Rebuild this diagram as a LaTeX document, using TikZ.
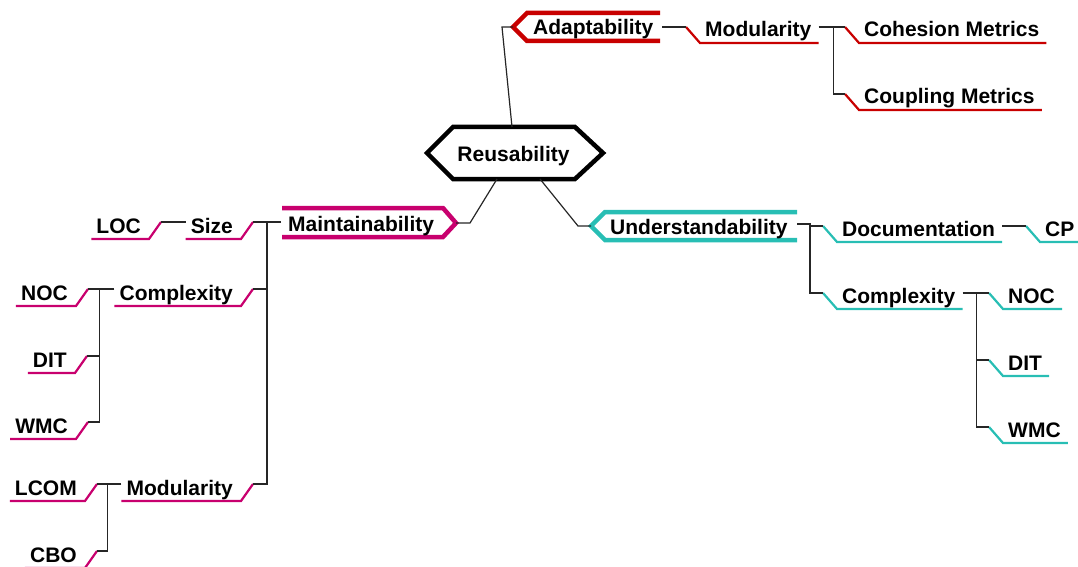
\documentclass[tikz,border=0pt]{standalone}
\usepackage{fontspec}
\setmainfont{Liberation Sans}
\usetikzlibrary{calc}
\definecolor{cRed}{RGB}{200,0,0}
\definecolor{cMag}{RGB}{200,0,110}
\definecolor{cTeal}{RGB}{40,190,180}
\tikzset{
 lbl/.style={inner sep=0pt, font=\fontsize{21}{25}\selectfont\bfseries},
 leafline/.style={line width=2.2pt, line join=miter},
 mainline/.style={line width=4.5pt, line join=miter},
 conn/.style={line width=1.2pt, black!85},
}
% right-side leaf: name, text-left x, baseline y, colour, text
\newcommand\RLeaf[5]{%
 \node[lbl,anchor=base west] (#1) at (#2,#3) {#5};
 \coordinate (#1-in) at ($(#1.base west)+(-19,-10)$);
 \coordinate (#1-out) at ($(#1.base east)+(7,-10)$);
 \draw[leafline,#4] (#1-in) -- ($(#1.base west)+(-5,6)$) -- ($(#1.base east)+(7,6)$);
}
% left-side leaf: name, text-right x, baseline y, colour, text
\newcommand\LLeaf[5]{%
 \node[lbl,anchor=base east] (#1) at (#2,#3) {#5};
 \coordinate (#1-in) at ($(#1.base east)+(20,-11)$);
 \coordinate (#1-out) at ($(#1.base west)+(-5,-11)$);
 \draw[leafline,#4] (#1-in) -- ($(#1.base east)+(8,6)$) -- ($(#1.base west)+(-5,6)$);
}
\begin{document}
\begin{tikzpicture}[x=1pt,y=-1pt]
\useasboundingbox (0,0) rectangle (1078,567);

% central node
\draw[line width=4.5pt, line join=miter] (427,153) -- (453,127) -- (575,127) -- (603,153) -- (575,179) -- (453,179) -- cycle;
\node[lbl,anchor=base] (reus) at (513.5,161) {Reusability};
\coordinate (reus-top) at (512,127);
\coordinate (reus-bl) at (497,179);
\coordinate (reus-br) at (540,179);

% Adaptability
\draw[mainline,cRed] (660,13) -- (527,13) -- (513,27) -- (527,41) -- (660,41);
\node[lbl,anchor=base west] (adapt) at (533,35) {Adaptability};
\coordinate (adapt-tip) at (513,27);
\coordinate (adapt-j) at (502,27);
\coordinate (adapt-out) at (662,27);

% Maintainability
\draw[mainline,cMag] (282,208) -- (443,208) -- (456,223) -- (443,237) -- (282,237);
\node[lbl,anchor=base west] (maint) at (288,231) {Maintainability};
\coordinate (maint-tip) at (456,223);
\coordinate (maint-j) at (470,223);
\coordinate (maint-out) at (281,222);
\coordinate (maint-v) at (267,222);

% Understandability
\draw[mainline,cTeal] (797,212) -- (605,212) -- (591,226) -- (605,240) -- (797,240);
\node[lbl,anchor=base west] (under) at (610,234) {Understandability};
\coordinate (under-tip) at (591,226);
\coordinate (under-j) at (578,226);
\coordinate (under-out) at (797,224);
\coordinate (under-v) at (810,224);

% connectors from centre
\draw[conn] (reus-top) -- (adapt-j) -- (adapt-tip);
\draw[conn] (reus-bl) -- (maint-j) -- (maint-tip);
\draw[conn] (reus-br) -- (under-j) -- (under-tip);

% Adaptability subtree
\RLeaf{amod}{705}{37}{cRed}{Modularity}
\RLeaf{coh}{864}{37}{cRed}{Cohesion Metrics}
\RLeaf{coup}{864}{104}{cRed}{Coupling Metrics}
\draw[conn] (adapt-out) -- (amod-in);
\coordinate (amod-v) at ($(amod-out)+(15,0)$);
\draw[conn] (amod-out) -- (coh-in);
\draw[conn] (amod-v) |- (coup-in);

% Understandability subtree
\RLeaf{doc}{842}{236}{cTeal}{Documentation}
\RLeaf{cp}{1045}{236}{cTeal}{CP}
\RLeaf{ucx}{842}{303}{cTeal}{Complexity}
\RLeaf{unoc}{1008}{303}{cTeal}{NOC}
\RLeaf{udit}{1008}{370}{cTeal}{DIT}
\RLeaf{uwmc}{1008}{437}{cTeal}{WMC}
\draw[conn] (under-out) -- (under-v) |- (doc-in);
\draw[conn] (under-v) |- (ucx-in);
\draw[conn] (doc-out) -- (cp-in);
\coordinate (ucx-v) at ($(ucx-out)+(14,0)$);
\draw[conn] (ucx-out) -- (unoc-in);
\draw[conn] (ucx-v) |- (udit-in);
\draw[conn] (ucx-v) |- (uwmc-in);

% Maintainability subtree
\LLeaf{size}{233}{233}{cMag}{Size}
\LLeaf{loc}{141}{233}{cMag}{LOC}
\LLeaf{mcx}{233}{300}{cMag}{Complexity}
\LLeaf{mnoc}{68}{300}{cMag}{NOC}
\LLeaf{mdit}{67}{367}{cMag}{DIT}
\LLeaf{mwmc}{68}{433}{cMag}{WMC}
\LLeaf{mmod}{233}{495}{cMag}{Modularity}
\LLeaf{lcom}{77}{495}{cMag}{LCOM}
\LLeaf{cbo}{77}{562}{cMag}{CBO}
\draw[conn] (maint-out) -- (maint-v) |- (size-in);
\draw[conn] (maint-v) |- (mcx-in);
\draw[conn] (maint-v) |- (mmod-in);
\draw[conn] (size-out) -- (loc-in);
\coordinate (mcx-v) at ($(mcx-out)+(-15,0)$);
\draw[conn] (mcx-out) -- (mnoc-in);
\draw[conn] (mcx-v) |- (mdit-in);
\draw[conn] (mcx-v) |- (mwmc-in);
\coordinate (mmod-v) at ($(mmod-out)+(-14,0)$);
\draw[conn] (mmod-out) -- (lcom-in);
\draw[conn] (mmod-v) |- (cbo-in);
\end{tikzpicture}
\end{document}
